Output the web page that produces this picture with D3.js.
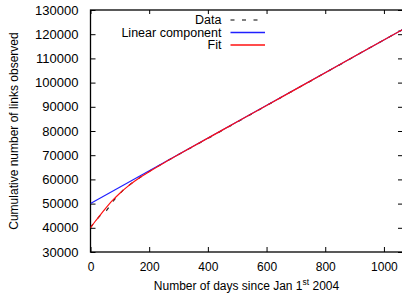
<!DOCTYPE html>
<html><head><meta charset="utf-8">
<script src="https://cdn.jsdelivr.net/npm/d3@7"></script>
<style>
html,body{margin:0;padding:0;background:#fff;}
svg{display:block;font-family:"Liberation Sans",Arial,sans-serif;}
</style></head>
<body>
<svg id="c" width="402" height="297"></svg>
<script>
// ---- data ----
const xTicks = [0, 200, 400, 600, 800, 1000];
const yTicks = [30000, 40000, 50000, 60000, 70000, 80000, 90000, 100000, 110000, 120000, 130000];
const dataDays = [0, 20, 40, 55, 70, 90, 110, 130, 150, 175, 200, 230, 260, 300, 350, 400, 450, 500, 550, 600, 650, 700, 750, 800, 850, 900, 950, 1000, 1030, 1045, 1055, 1065];
const dataLinks = [40200, 43300, 46000, 47200, 49800, 53000, 55400, 57500, 59200, 61300, 63300, 65400, 67500, 70300, 73600, 76900, 80300, 83700, 87100, 90500, 93900, 97300, 100600, 104100, 107400, 110800, 114300, 117600, 119700, 121200, 121300, 121900];
const linearDays = [0, 1065];
const linearLinks = [50000, 122000];
const fitDays = [0, 15, 30, 50, 75, 100, 125, 150, 175, 200, 250, 300, 500, 700, 900, 1065];
const fitLinks = [40000, 42500, 44800, 47800, 51300, 54300, 56900, 59200, 61300, 63200, 66800, 70250, 83800, 97300, 110850, 122000];
const legendLabels = ["Data", "Linear component", "Fit"];

// ---- layout ----
const L = 90.5, R = 403, T = 10, B = 252;
const svg = d3.select("#c");
const x = d3.scaleLinear().domain([0, 1065]).range([L, R]);
const y = d3.scaleLinear().domain([30000, 130000]).range([B, T]);

svg.append("defs").append("clipPath").attr("id", "clip")
  .append("rect").attr("x", L).attr("y", T).attr("width", R - L).attr("height", B - T);

// axes (gnuplot-like inward ticks, mirrored)
const gB = svg.append("g").attr("transform", `translate(0,${B})`)
  .call(d3.axisBottom(x).tickValues(xTicks).tickSize(-5).tickPadding(10).tickFormat(d3.format("d")));
const gT = svg.append("g").attr("transform", `translate(0,${T})`)
  .call(d3.axisTop(x).tickValues(xTicks).tickSize(-4).tickFormat(""));
const gL = svg.append("g").attr("transform", `translate(${L},0)`)
  .call(d3.axisLeft(y).tickValues(yTicks).tickSize(-5).tickPadding(12).tickFormat(d3.format("d")));
const gR = svg.append("g").attr("transform", `translate(${R},0)`)
  .call(d3.axisRight(y).tickValues(yTicks).tickSize(-5).tickFormat(""));
[gB, gT, gL, gR].forEach(g => {
  g.select(".domain").remove();
  g.selectAll(".tick line").attr("stroke", "#000").attr("stroke-width", 1);
});
gB.selectAll(".tick text").attr("font-size", 12).attr("fill", "#000")
  .attr("font-family", "Liberation Sans, Arial, sans-serif");
gL.selectAll(".tick text").attr("font-size", 13).attr("fill", "#000")
  .attr("font-family", "Liberation Sans, Arial, sans-serif");

// frame
svg.append("rect").attr("x", L).attr("y", T).attr("width", R - L).attr("height", B - T)
  .attr("fill", "none").attr("stroke", "#000").attr("stroke-width", 1.3);

// series
const plot = svg.append("g").attr("clip-path", "url(#clip)");
const line = d3.line().x(d => x(d[0])).y(d => y(d[1]));
const dataPts = dataDays.map((d, i) => [d, dataLinks[i]]);
const linPts = linearDays.map((d, i) => [d, linearLinks[i]]);
const fitPts = fitDays.map((d, i) => [d, fitLinks[i]]);

plot.append("path").attr("d", line(dataPts)).attr("fill", "none")
  .attr("stroke", "#222").attr("stroke-width", 1.2).attr("stroke-dasharray", "4,7.5");
plot.append("path").attr("d", line(linPts)).attr("fill", "none")
  .attr("stroke", "#2020ff").attr("stroke-width", 1.2);
plot.append("path").attr("d", d3.line().curve(d3.curveMonotoneX).x(d => x(d[0])).y(d => y(d[1]))(fitPts))
  .attr("fill", "none").attr("stroke", "#ff1010").attr("stroke-width", 1.2);

// legend
const legY = [20, 32.5, 45];
const legStyles = [
  {stroke: "#555", dash: "4,7.5"},
  {stroke: "#2020ff", dash: null},
  {stroke: "#ff1010", dash: null}
];
legendLabels.forEach((lab, i) => {
  svg.append("text").attr("x", 221.5).attr("y", legY[i] + 4.3).attr("text-anchor", "end")
    .attr("font-size", 12.5).attr("fill", "#000").text(lab);
  const ln = svg.append("line").attr("x1", 230.5).attr("x2", 265).attr("y1", legY[i]).attr("y2", legY[i])
    .attr("stroke", legStyles[i].stroke).attr("stroke-width", 1.3);
  if (legStyles[i].dash) ln.attr("stroke-dasharray", legStyles[i].dash);
});

// axis titles
const xt = svg.append("text").attr("x", 246.5).attr("y", 290).attr("text-anchor", "middle")
  .attr("font-size", 12).attr("fill", "#000");
xt.append("tspan").text("Number of days since Jan 1");
xt.append("tspan").attr("font-size", 8.5).attr("dy", -5).text("st");
xt.append("tspan").attr("dy", 5).text(" 2004");

svg.append("text").attr("transform", "translate(18,131) rotate(-90)").attr("text-anchor", "middle")
  .attr("font-size", 12).attr("fill", "#000").text("Cumulative number of links observed");
</script>
</body></html>
